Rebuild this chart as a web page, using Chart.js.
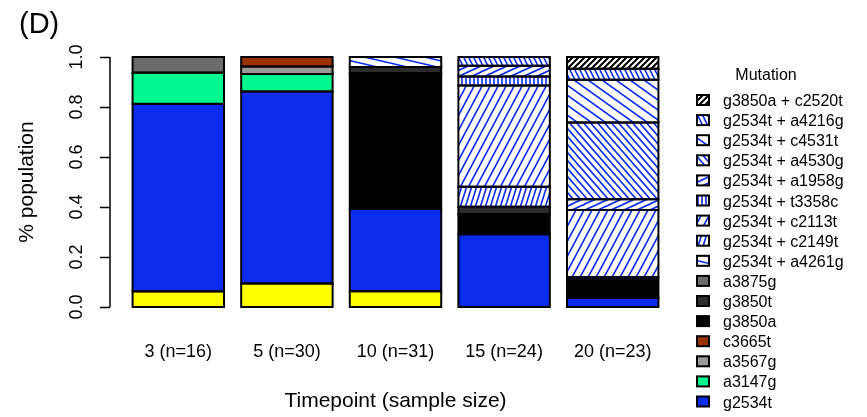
<!DOCTYPE html>
<html>
<head>
<meta charset="utf-8">
<script src="https://cdn.jsdelivr.net/npm/chart.js@4.4.0/dist/chart.umd.min.js"></script>
<style>
  html, body { margin: 0; padding: 0; background: #fff; }
  #wrap { width: 867px; height: 417px; position: relative; }
</style>
</head>
<body>
<div id="wrap"><canvas id="bar-chart"></canvas></div>
<script>
const timepoints = ["3 (n=16)", "5 (n=30)", "10 (n=31)", "15 (n=24)", "20 (n=23)"];
const yTicks = [0, 0.2, 0.4, 0.6, 0.8, 1.0];

// share of the population per timepoint, bottom of the stack first
const wildtype       = [0.0625, 0.094, 0.063, 0,     0];
const g2534t         = [0.75,   0.768, 0.329, 0.291, 0.036];
const a3147g         = [0.125,  0.070, 0,     0,     0];
const a3567g         = [0,      0.030, 0,     0,     0];
const c3665t         = [0,      0.038, 0,     0,     0];
const g3850a         = [0,      0,     0.544, 0.080, 0.084];
const g3850t         = [0,      0,     0.024, 0.030, 0];
const a3875g         = [0.0625, 0,     0,     0,     0];
const g2534t_a4261g  = [0,      0,     0.040, 0,     0];
const g2534t_c2149t  = [0,      0,     0,     0.080, 0];
const g2534t_c2113t  = [0,      0,     0,     0.405, 0.268];
const g2534t_t3358c  = [0,      0,     0,     0.036, 0];
const g2534t_a1958g  = [0,      0,     0,     0.043, 0.043];
const g2534t_a4530g  = [0,      0,     0,     0,     0.307];
const g2534t_c4531t  = [0,      0,     0,     0,     0.171];
const g2534t_a4216g  = [0,      0,     0,     0.035, 0.044];
const g3850a_c2520t  = [0,      0,     0,     0,     0.047];

const FONT = "'Liberation Sans', Arial, Helvetica, sans-serif";
const BLUE = "#0b2ced";

// striped fill: w = horizontal gap between stripes, h = vertical period
function hatch(color, w, h, dir, lw) {
  const c = document.createElement("canvas");
  c.width = w; c.height = h;
  const g = c.getContext("2d");
  g.fillStyle = "#fff";
  g.fillRect(0, 0, w, h);
  g.strokeStyle = color;
  g.lineWidth = lw;
  g.beginPath();
  if (dir === "|") {
    g.moveTo(w / 2, -1); g.lineTo(w / 2, h + 1);
  } else {
    for (let k = -2; k <= 2; k++) {
      if (dir === "/") { g.moveTo(k * w - w, 2 * h); g.lineTo(k * w + 2 * w, -h); }
      else { g.moveTo(k * w - w, -h); g.lineTo(k * w + 2 * w, 2 * h); }
    }
  }
  g.stroke();
  return g.createPattern(c, "repeat");
}

const datasets = [
  { label: "wildtype",        data: wildtype,      backgroundColor: "#ffff00", legend: false },
  { label: "g2534t",          data: g2534t,        backgroundColor: BLUE },
  { label: "a3147g",          data: a3147g,        backgroundColor: "#00f78f" },
  { label: "a3567g",          data: a3567g,        backgroundColor: "#999999" },
  { label: "c3665t",          data: c3665t,        backgroundColor: "#993300" },
  { label: "g3850a",          data: g3850a,        backgroundColor: "#000000" },
  { label: "g3850t",          data: g3850t,        backgroundColor: "#2b2b2b" },
  { label: "a3875g",          data: a3875g,        backgroundColor: "#6b6b6b" },
  { label: "g2534t + a4261g", data: g2534t_a4261g, backgroundColor: hatch(BLUE, 30, 7, "\\", 1.6) },
  { label: "g2534t + c2149t", data: g2534t_c2149t, backgroundColor: hatch(BLUE, 5, 16, "/", 1.6) },
  { label: "g2534t + c2113t", data: g2534t_c2113t, backgroundColor: hatch(BLUE, 8, 15, "/", 1.6) },
  { label: "g2534t + t3358c", data: g2534t_t3358c, backgroundColor: hatch(BLUE, 4, 4, "|", 1.6) },
  { label: "g2534t + a1958g", data: g2534t_a1958g, backgroundColor: hatch(BLUE, 13, 6, "/", 1.6) },
  { label: "g2534t + a4530g", data: g2534t_a4530g, backgroundColor: hatch(BLUE, 7, 8, "\\", 1.6) },
  { label: "g2534t + c4531t", data: g2534t_c4531t, backgroundColor: hatch(BLUE, 14, 10, "\\", 1.6) },
  { label: "g2534t + a4216g", data: g2534t_a4216g, backgroundColor: hatch(BLUE, 5, 10, "\\", 1.6) },
  { label: "g3850a + c2520t", data: g3850a_c2520t, backgroundColor: hatch("#000", 6, 6, "/", 2) }
];
datasets.forEach(d => {
  d.borderWidth = 0;
  d.barPercentage = 0.842;
  d.categoryPercentage = 1;
});

// black outline round every segment, centred on its edges
const outlines = {
  id: "outlines",
  afterDatasetsDraw(chart) {
    const ctx = chart.ctx;
    ctx.save();
    ctx.strokeStyle = "#000";
    ctx.lineWidth = 2;
    chart.data.datasets.forEach((ds, i) => {
      chart.getDatasetMeta(i).data.forEach((bar, j) => {
        if (!ds.data[j]) return;
        const p = bar.getProps(["x", "y", "base", "width"], true);
        ctx.strokeRect(p.x - p.width / 2, Math.min(p.y, p.base), p.width, Math.abs(p.base - p.y));
      });
    });
    ctx.restore();
  }
};

// axes, titles and legend drawn in base-graphics style
const decorations = {
  id: "decorations",
  afterDraw(chart) {
    const ctx = chart.ctx;
    const y = chart.scales.y, x = chart.scales.x;
    ctx.save();
    ctx.fillStyle = "#000";
    ctx.strokeStyle = "#000";

    // y axis
    const axX = 110;
    ctx.lineWidth = 1.5;
    ctx.beginPath();
    ctx.moveTo(axX, y.getPixelForValue(0));
    ctx.lineTo(axX, y.getPixelForValue(1));
    yTicks.forEach(v => {
      const py = Math.round(y.getPixelForValue(v)) + 0.5;
      ctx.moveTo(axX - 10, py);
      ctx.lineTo(axX, py);
    });
    ctx.stroke();

    ctx.font = "18px " + FONT;
    ctx.textAlign = "center";
    ctx.textBaseline = "alphabetic";
    yTicks.forEach(v => {
      ctx.save();
      ctx.translate(82, y.getPixelForValue(v));
      ctx.rotate(-Math.PI / 2);
      ctx.fillText(v.toFixed(1), 0, 0);
      ctx.restore();
    });

    ctx.font = "21px " + FONT;
    ctx.save();
    ctx.translate(33, (y.getPixelForValue(0) + y.getPixelForValue(1)) / 2);
    ctx.rotate(-Math.PI / 2);
    ctx.fillText("% population", 0, 0);
    ctx.restore();

    // category labels and x title
    ctx.font = "18px " + FONT;
    timepoints.forEach((t, j) => ctx.fillText(t, x.getPixelForValue(j), 357));
    ctx.font = "21px " + FONT;
    ctx.fillText("Timepoint (sample size)", (x.left + x.right) / 2, 407);

    // panel tag
    ctx.font = "29px " + FONT;
    ctx.textAlign = "left";
    ctx.fillText("(D)", 19, 33);

    // legend, top of the stack first
    ctx.font = "16px " + FONT;
    ctx.textAlign = "center";
    ctx.fillText("Mutation", 766, 80);
    ctx.textAlign = "left";
    const items = chart.data.datasets.filter(d => d.legend !== false).reverse();
    items.forEach((d, k) => {
      const cy = 100 + k * 20.1;
      ctx.fillStyle = d.backgroundColor;
      ctx.fillRect(697, cy - 5, 12, 10);
      ctx.lineWidth = 2;
      ctx.strokeStyle = "#000";
      ctx.strokeRect(697, cy - 5, 12, 10);
      ctx.fillStyle = "#000";
      ctx.fillText(d.label, 723, cy + 6);
    });
    ctx.restore();
  }
};

new Chart(document.getElementById("bar-chart"), {
  type: "bar",
  data: { labels: timepoints, datasets: datasets },
  options: {
    responsive: true,
    maintainAspectRatio: false,
    animation: false,
    layout: { padding: { left: 124, right: 200, top: 57, bottom: 110 } },
    scales: {
      x: { stacked: true, display: false },
      y: { stacked: true, display: false, min: 0, max: 1 }
    },
    plugins: {
      legend: { display: false },
      tooltip: { enabled: false }
    }
  },
  plugins: [outlines, decorations]
});
</script>
</body>
</html>
